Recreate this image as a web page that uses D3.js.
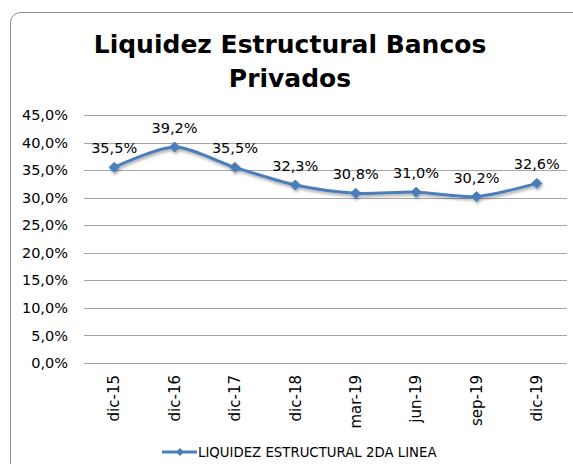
<!DOCTYPE html>
<html>
<head>
<meta charset="utf-8">
<style>
body { margin: 0; background: #fff; }
text { font-family: "DejaVu Sans", Verdana, sans-serif; fill: #000; }
.grid line { stroke: #a6a6a6; stroke-width: 1; }
.axis path { display: none; }
.axis line { display: none; }
</style>
<script src="https://cdn.jsdelivr.net/npm/d3@7"></script>
</head>
<body>
<svg width="573" height="464"></svg>
<script>

var categories = ["dic-15","dic-16","dic-17","dic-18","mar-19","jun-19","sep-19","dic-19"];
var values = [35.5, 39.2, 35.5, 32.3, 30.8, 31.0, 30.2, 32.6];
var yTicks = [0, 5, 10, 15, 20, 25, 30, 35, 40, 45];
var seriesName = "LIQUIDEZ ESTRUCTURAL 2DA LINEA";
var titleLines = ["Liquidez Estructural Bancos", "Privados"];

var svg = d3.select("svg"),
    margin = {top: 115, left: 84, right: 6, bottom: 101},
    width = 573 - margin.left - margin.right,
    height = 464 - margin.top - margin.bottom;

var color = "#4a7ebb";
var fmt = function(v) { return d3.format(".1f")(v).replace(".", ",") + "%"; };

// chart border
svg.append("rect")
    .attr("x", 10.5).attr("y", 12.5)
    .attr("width", 580).attr("height", 470)
    .attr("rx", 10)
    .attr("fill", "none")
    .attr("stroke", "#8c8c8c");

var defs = svg.append("defs");
var f = defs.append("filter").attr("id", "shadow").attr("x", "-20%").attr("y", "-20%").attr("width", "140%").attr("height", "160%");
f.append("feDropShadow").attr("dx", 1).attr("dy", 2).attr("stdDeviation", 1.5)
    .attr("flood-color", "#000").attr("flood-opacity", 0.35);

// title
svg.append("g").selectAll("text")
  .data(titleLines)
  .enter().append("text")
    .attr("x", 290)
    .attr("y", function(d, i) { return 53 + i * 34; })
    .attr("text-anchor", "middle")
    .style("font-size", "25px")
    .style("font-weight", "bold")
    .text(function(d) { return d; });

var x = d3.scaleBand().domain(categories).range([0, width]),
    y = d3.scaleLinear().domain([0, 45]).range([height, 0]);

var g = svg.append("g")
    .attr("transform", "translate(" + margin.left + "," + margin.top + ")");

g.append("g")
    .attr("class", "grid")
  .selectAll("line")
  .data(yTicks)
  .enter().append("line")
    .attr("x1", 0).attr("x2", width)
    .attr("y1", function(d) { return Math.round(y(d)) + 0.5; })
    .attr("y2", function(d) { return Math.round(y(d)) + 0.5; });

g.append("g")
    .attr("class", "axis axis--y")
    .call(d3.axisLeft(y).tickValues(yTicks).tickSize(0).tickPadding(16).tickFormat(fmt))
  .selectAll("text")
    .style("font-size", "14.5px");

g.append("g")
    .attr("class", "axis axis--x")
    .attr("transform", "translate(0," + height + ")")
    .call(d3.axisBottom(x).tickSize(0).tickPadding(0))
  .selectAll("text")
    .style("font-size", "15px")
    .attr("transform", "rotate(-90)")
    .attr("text-anchor", "end")
    .attr("x", -12)
    .attr("y", 0)
    .attr("dy", "0.35em");

var pts = categories.map(function(c, i) { return {cat: c, v: values[i]}; });

var line = d3.line()
    .x(function(d) { return x(d.cat) + x.bandwidth() / 2; })
    .y(function(d) { return y(d.v); })
    .curve(d3.curveCardinal.tension(0.2));

var series = g.append("g").attr("filter", "url(#shadow)");

series.append("path")
    .datum(pts)
    .attr("fill", "none")
    .attr("stroke", color)
    .attr("stroke-width", 3)
    .attr("d", line);

series.selectAll(".marker")
  .data(pts)
  .enter().append("path")
    .attr("class", "marker")
    .attr("transform", function(d) { return "translate(" + (x(d.cat) + x.bandwidth() / 2) + "," + y(d.v) + ")"; })
    .attr("d", "M0,-5L5,0L0,5L-5,0Z")
    .attr("fill", color)
    .attr("stroke", color);

g.selectAll(".lbl")
  .data(pts)
  .enter().append("text")
    .attr("class", "lbl")
    .attr("x", function(d) { return x(d.cat) + x.bandwidth() / 2; })
    .attr("y", function(d) { return y(d.v) - 14; })
    .attr("text-anchor", "middle")
    .style("font-size", "14.5px")
    .text(function(d) { return fmt(d.v); });

// legend
var lg = svg.append("g").attr("transform", "translate(162,452)");
lg.append("line")
    .attr("x1", 0).attr("x2", 35)
    .attr("stroke", color).attr("stroke-width", 3);
lg.append("path")
    .attr("transform", "translate(18,0)")
    .attr("d", "M0,-4L4,0L0,4L-4,0Z")
    .attr("fill", color);
lg.append("text")
    .attr("x", 36)
    .attr("y", 0)
    .attr("dy", "0.35em")
    .style("font-size", "13.3px")
    .text(seriesName);

</script>
</body>
</html>
